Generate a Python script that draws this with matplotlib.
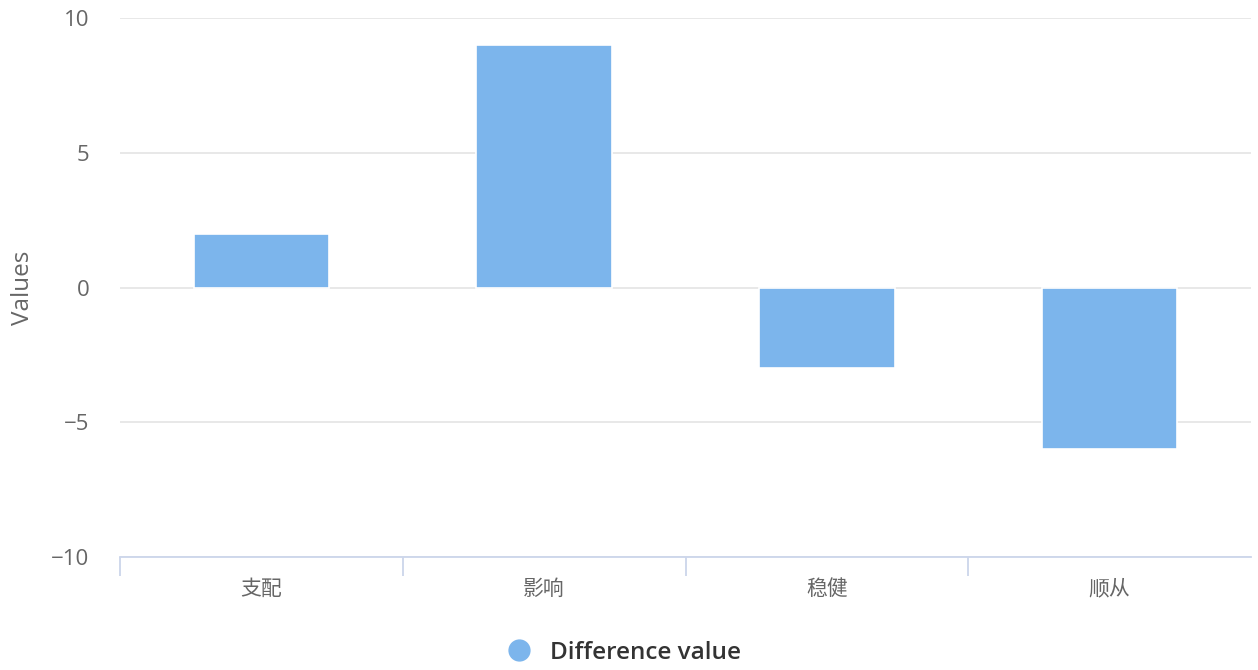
import matplotlib
matplotlib.use("Agg")
import matplotlib.pyplot as plt
from matplotlib.lines import Line2D
from matplotlib.ticker import FixedLocator, NullFormatter

plt.rcParams['font.family'] = ['Open Sans', 'Noto Sans CJK SC', 'DejaVu Sans']

categories = ["支配", "影响", "稳健", "顺从"]
values = [2, 9, -3, -6]
series_name = "Difference value"
y_ticks = [-10, -5, 0, 5, 10]

bar_color = "#7cb5ec"
grid_color = "#e6e6e6"
axis_color = "#ccd6eb"
label_color = "#666666"

W, H = 1258, 670
fig = plt.figure(figsize=(W / 100, H / 100), dpi=100)
ax = fig.add_axes([120 / W, 1 - 557 / H, 1131 / W, (557 - 18) / H])

x = range(len(categories))
ax.bar(x, values, width=0.48, color=bar_color, edgecolor="white",
       linewidth=1.2, zorder=3)

ax.set_xlim(-0.5, len(categories) - 0.5)
ax.set_ylim(-10, 10)
ax.set_yticks(y_ticks)
ax.set_yticklabels(["\u221210", "\u22125", "0", "5", "10"])
ax.yaxis.grid(True, color=grid_color, linewidth=1.3, zorder=0)
ax.tick_params(axis="y", length=0, pad=22, labelsize=16, labelcolor=label_color)

ax.set_xticks(list(x))
ax.set_xticklabels(categories)
ax.tick_params(axis="x", which="major", length=0, pad=15.5, labelsize=15,
               labelcolor=label_color)
ax.xaxis.set_minor_locator(FixedLocator([i - 0.5 for i in range(len(categories))]))
ax.xaxis.set_minor_formatter(NullFormatter())
ax.tick_params(axis="x", which="minor", length=14, width=1.3, color=axis_color)

for side in ("top", "right", "left"):
    ax.spines[side].set_visible(False)
ax.spines["bottom"].set_color(axis_color)
ax.spines["bottom"].set_linewidth(1.3)

ax.set_ylabel("Values", fontsize=17.5, color=label_color, labelpad=12)

handle = Line2D([], [], marker="o", linestyle="none", markersize=15,
                markerfacecolor=bar_color, markeredgecolor=bar_color)
fig.legend([handle], [series_name], loc="center", bbox_to_anchor=(0.491, 1 - 653 / H),
           frameon=False, handletextpad=0.25,
           labelcolor="#333333", prop={"weight": "semibold", "size": 17.5})

fig.savefig("out.png", dpi=100, facecolor="white")
